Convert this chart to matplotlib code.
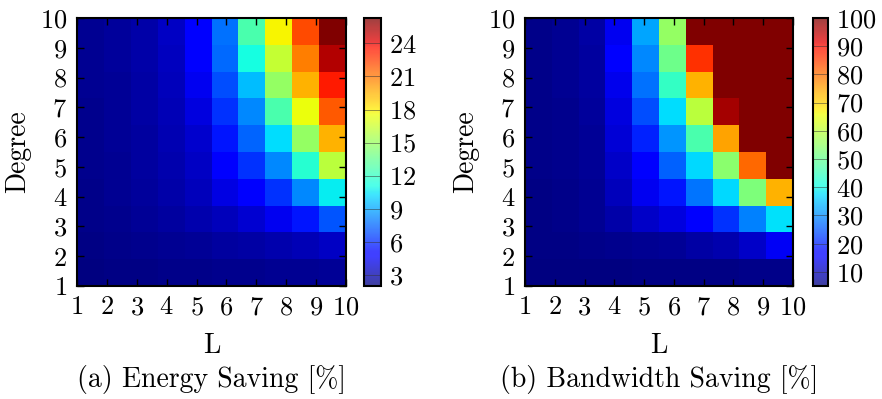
import numpy as np
import matplotlib
matplotlib.use("Agg")
import matplotlib.pyplot as plt

plt.rcParams['font.family'] = 'serif'
plt.rcParams['font.serif'] = ['cmr10', 'DejaVu Serif']
plt.rcParams['mathtext.fontset'] = 'cm'
plt.rcParams['axes.formatter.use_mathtext'] = True

L_ticks = list(range(1, 11))
degree_ticks = list(range(1, 11))

# rows: degree 1..10, columns: L 1..10
energy_saving = [
    [2.0, 2.1, 2.1, 2.2, 2.2, 2.3, 2.3, 2.4, 2.4, 2.5],
    [2.1, 2.2, 2.3, 2.4, 2.5, 2.7, 2.8, 3.0, 3.2, 3.5],
    [2.2, 2.3, 2.5, 2.7, 3.0, 3.3, 3.8, 4.4, 5.6, 7.1],
    [2.2, 2.4, 2.6, 2.9, 3.3, 4.1, 4.7, 6.25, 8.3, 10.7],
    [2.3, 2.4, 2.7, 3.0, 3.5, 4.7, 6.25, 8.3, 11.6, 16.0],
    [2.3, 2.5, 2.7, 3.1, 3.7, 5.6, 7.5, 10.3, 14.9, 19.5],
    [2.3, 2.5, 2.8, 3.2, 4.0, 6.25, 8.3, 12.7, 17.4, 21.8],
    [2.4, 2.5, 2.8, 3.3, 4.4, 6.9, 9.5, 14.9, 19.5, 23.4],
    [2.4, 2.6, 2.9, 3.4, 4.7, 7.6, 11.2, 16.3, 20.8, 25.2],
    [2.4, 2.6, 2.9, 3.5, 4.9, 7.7, 12.7, 17.8, 22.2, 26.3],
]

bandwidth_saving = [
    [5.0, 5.1, 5.2, 5.3, 5.4, 5.5, 5.6, 5.7, 5.8, 6.0],
    [5.5, 5.7, 6.0, 6.3, 6.6, 7.0, 8.0, 9.0, 11.0, 15.0],
    [5.6, 6.0, 6.5, 8.5, 11.0, 13.0, 15.5, 21.6, 28.8, 38.0],
    [5.7, 6.1, 6.8, 10.0, 14.5, 19.0, 28.0, 37.0, 52.5, 73.4],
    [5.8, 6.2, 7.0, 11.0, 15.5, 26.0, 37.0, 54.0, 81.0, 100],
    [5.8, 6.3, 7.2, 12.4, 20.0, 30.7, 46.8, 74.8, 100, 100],
    [5.9, 6.4, 7.4, 13.0, 24.0, 37.3, 59.6, 97.0, 100, 100],
    [5.9, 6.5, 7.6, 14.0, 27.6, 44.0, 73.4, 100, 100, 100],
    [6.0, 6.6, 7.8, 15.5, 29.7, 51.0, 86.3, 100, 100, 100],
    [6.0, 6.7, 8.0, 14.5, 32.3, 55.4, 100, 100, 100, 100],
]

energy_cbar_ticks = [3, 6, 9, 12, 15, 18, 21, 24]
bandwidth_cbar_ticks = [10, 20, 30, 40, 50, 60, 70, 80, 90, 100]

FS = 19
LABEL_FS = 20


def draw_panel(ax, cax, data, cticks, caption):
    data = np.array(data)
    edges = np.linspace(1, 10, 11)
    mesh = ax.pcolormesh(edges, edges, data, cmap='jet', shading='flat')
    ax.set_xlim(1, 10)
    ax.set_ylim(1, 10)
    ax.set_xticks(L_ticks)
    ax.set_yticks(degree_ticks)
    ax.tick_params(direction='in', top=True, right=True, length=5,
                   width=1, labelsize=FS, pad=7)
    for s in ax.spines.values():
        s.set_linewidth(1.5)
    ax.set_xlabel('L', fontsize=LABEL_FS)
    ax.set_ylabel('Degree', fontsize=LABEL_FS)
    ax.xaxis.set_label_coords(0.5, -0.175)
    ax.yaxis.set_label_coords(-0.17, 0.5)
    ax.text(0.5, -0.35, caption, transform=ax.transAxes, ha='center',
            va='center', fontsize=LABEL_FS)

    cb = plt.colorbar(mesh, cax=cax)
    cb.solids.set_alpha(0.75)
    cb.set_ticks(cticks)
    cb.ax.tick_params(labelsize=FS, length=0, pad=6)
    for t in cticks:
        cb.ax.axhline(t, color='#333333', lw=0.6, alpha=0.6)
    cb.outline.set_linewidth(1.5)


fig = plt.figure(figsize=(8.82, 3.99), dpi=100)
ax1 = fig.add_axes([0.0873, 0.2832, 0.305, 0.6717])
cax1 = fig.add_axes([0.4127, 0.2832, 0.019, 0.6717])
ax2 = fig.add_axes([0.5952, 0.2832, 0.3039, 0.6717])
cax2 = fig.add_axes([0.9218, 0.2832, 0.017, 0.6717])

draw_panel(ax1, cax1, energy_saving, energy_cbar_ticks, '(a) Energy Saving [%]')
draw_panel(ax2, cax2, bandwidth_saving, bandwidth_cbar_ticks, '(b) Bandwidth Saving [%]')

fig.savefig('out.png', dpi=100)
